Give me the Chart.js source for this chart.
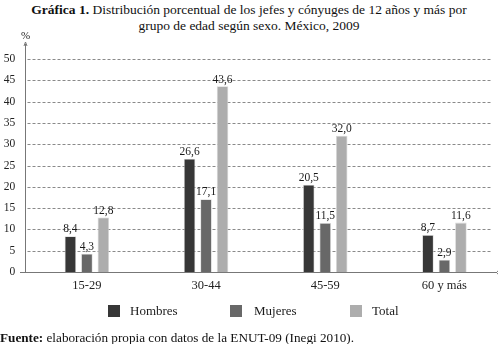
<!DOCTYPE html>
<html><head><meta charset="utf-8">
<script src="https://cdn.jsdelivr.net/npm/chart.js@4/dist/chart.umd.min.js"></script>
<style>
html,body{margin:0;padding:0;background:#fff;width:498px;height:344px;overflow:hidden;position:relative;}
#title{position:absolute;left:0;top:2px;width:498px;text-align:center;font-family:"Liberation Serif",serif;font-size:13.5px;line-height:16px;color:#111;}
#foot{position:absolute;left:0;top:330px;font-family:"Liberation Serif",serif;font-size:13.2px;color:#111;white-space:nowrap;}
canvas{position:absolute;left:0;top:0;}
</style></head><body>
<div id="title"><b>Gráfica 1.</b> Distribución porcentual de los jefes y cónyuges de 12 años y más por<br>grupo de edad según sexo. México, 2009</div>
<canvas id="c" width="510" height="344"></canvas>
<div id="foot"><b>Fuente:</b> elaboración propia con datos de la ENUT-09 (Inegi 2010).</div>
<script>
const categories = ["15-29", "30-44", "45-59", "60 y más"];
const hombres = [8.4, 26.6, 20.5, 8.7];
const mujeres = [4.3, 17.1, 11.5, 2.9];
const total = [12.8, 43.6, 32.0, 11.6];
const seriesNames = ["Hombres", "Mujeres", "Total"];
const seriesColors = ["#373737", "#686868", "#adadad"];
const yTicks = [0, 5, 10, 15, 20, 25, 30, 35, 40, 45, 50];

const FONT = '"Liberation Serif", serif';

const axisPlugin = {
  id: 'axisPlugin',
  beforeDatasetsDraw(chart) {
    const ctx = chart.ctx, y = chart.scales.y;
    const x0 = 25.5;
    ctx.save();
    ctx.strokeStyle = '#8a8a8a';
    ctx.lineWidth = 1;
    ctx.setLineDash([3, 2]);
    yTicks.forEach(v => {
      if (v === 0) return;
      const py = Math.round(y.getPixelForValue(v)) + 0.5;
      ctx.beginPath(); ctx.moveTo(x0 + 2, py); ctx.lineTo(491, py); ctx.stroke();
    });
    ctx.setLineDash([]);
    const yb = Math.round(y.getPixelForValue(0)) + 0.5;
    ctx.strokeStyle = '#777';
    ctx.beginPath(); ctx.moveTo(20, yb); ctx.lineTo(497, yb); ctx.stroke();
    ctx.beginPath(); ctx.moveTo(497, yb - 1.5); ctx.lineTo(499, yb); ctx.lineTo(497, yb + 1.5); ctx.stroke();
    ctx.beginPath(); ctx.moveTo(x0, yb); ctx.lineTo(x0, 44); ctx.stroke();
    ctx.beginPath(); ctx.moveTo(x0 - 1.5, 46); ctx.lineTo(x0, 42); ctx.lineTo(x0 + 1.5, 46); ctx.stroke();
    ctx.fillStyle = '#222';
    ctx.font = '11px ' + FONT;
    ctx.textAlign = 'center';
    ctx.textBaseline = 'middle';
    ctx.fillText('%', x0, 36);
    ctx.restore();
  },
  afterDatasetsDraw(chart) {
    const ctx = chart.ctx;
    ctx.save();
    ctx.fillStyle = '#1a1a1a';
    ctx.font = '11.5px ' + FONT;
    ctx.textAlign = 'center';
    ctx.textBaseline = 'bottom';
    chart.data.datasets.forEach((ds, i) => {
      const meta = chart.getDatasetMeta(i);
      meta.data.forEach((bar, j) => {
        const txt = ds.data[j].toFixed(1).replace('.', ',');
        ctx.fillText(txt, bar.x, bar.y - 1);
      });
    });
    const lx = [108, 230, 350];
    ctx.font = '13px ' + FONT;
    ctx.textAlign = 'left';
    ctx.textBaseline = 'middle';
    chart.data.datasets.forEach((ds, i) => {
      ctx.fillStyle = ds.backgroundColor;
      ctx.fillRect(lx[i], 305, 12, 12);
      ctx.fillStyle = '#1a1a1a';
      ctx.fillText(ds.label, lx[i] + 22 + (i === 1 ? 2 : 0), 311.5);
    });
    ctx.restore();
  }
};

const mk = (i, data) => ({
  label: seriesNames[i],
  data: data,
  backgroundColor: seriesColors[i],
  borderColor: '#d8d8d8',
  borderWidth: 0.8,
  barPercentage: 0.7,
  categoryPercentage: 0.415
});

new Chart(document.getElementById('c'), {
  type: 'bar',
  data: {
    labels: categories,
    datasets: [mk(0, hombres), mk(1, mujeres), mk(2, total)]
  },
  options: {
    responsive: false,
    animation: false,
    devicePixelRatio: 1,
    layout: { padding: { left: 0, right: 6, top: 59, bottom: 52 } },
    plugins: { legend: { display: false }, tooltip: { enabled: false } },
    scales: {
      x: {
        grid: { display: false, drawTicks: false, tickLength: 0 },
        border: { display: false },
        ticks: { color: '#222', font: { family: FONT, size: 12.5 }, padding: 6, maxRotation: 0 },
        afterFit(s) { s.height = 20; }
      },
      y: {
        min: 0, max: 50,
        afterBuildTicks(s) { s.ticks = yTicks.map(v => ({ value: v })); },
        grid: { display: false, drawTicks: false, tickLength: 0 },
        border: { display: false },
        ticks: { color: '#222', font: { family: FONT, size: 11.5 }, padding: 12 },
        afterFit(s) { s.width = 27.3; }
      }
    }
  },
  plugins: [axisPlugin]
});
</script>
</body></html>
